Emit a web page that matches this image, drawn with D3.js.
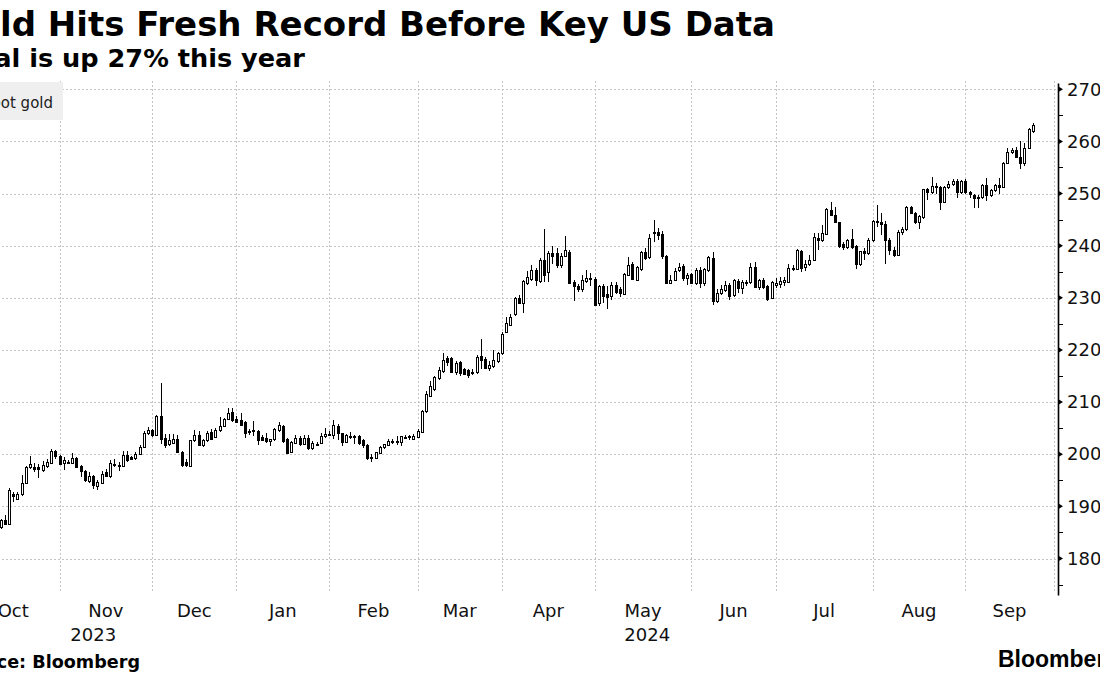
<!DOCTYPE html>
<html>
<head>
<meta charset="utf-8">
<script src="https://cdn.jsdelivr.net/npm/d3@7"></script>
<style>
  body { margin: 0; background: #fff; overflow: hidden; }
  svg { display: block; }
  text { font-family: "DejaVu Sans", sans-serif; fill: #000; }
</style>
</head>
<body>
<svg id="chart" width="1100" height="675"></svg>
<script>
// month categories (trading-day slots per month, Oct 2023 .. Sep 2024)
const monthLabels = ['Oct', 'Nov', 'Dec', 'Jan', 'Feb', 'Mar', 'Apr', 'May', 'Jun', 'Jul', 'Aug', 'Sep'];
const sessionsPerMonth = [22, 22, 20, 22, 21, 20, 22, 23, 20, 23, 22, 21];
const yearLabels = ['2023', '2024'];
const yearFirstMonth = [0, 3];
const yTicks = [1800, 1900, 2000, 2100, 2200, 2300, 2400, 2500, 2600, 2700];
const yMinorTicks = [1750, 1850, 1950, 2050, 2150, 2250, 2350, 2450, 2550, 2650];

// daily candles [open, high, low, close]; null = session cut off by the crop
const oct2023 = [
  null, null, null, null, null, null, null, null,
  [1860, 1876, 1857, 1873], [1873, 1883, 1864, 1867], [1867, 1935, 1865, 1932],
  [1923, 1928, 1909, 1919], [1915, 1928, 1912, 1923], [1923, 1960, 1920, 1945],
  [1945, 1978, 1942, 1975], [1975, 1996, 1972, 1981], [1975, 1984, 1965, 1972],
  [1975, 1982, 1954, 1971], [1970, 1987, 1966, 1979], [1977, 1990, 1974, 1986],
  [1984, 2010, 1981, 2007], [2007, 2009, 1990, 1996]
];
const nov2023 = [
  [1997, 1999, 1980, 1982], [1984, 1994, 1970, 1988], [1986, 1989, 1981, 1983],
  [1984, 2003, 1982, 1992], [1992, 1995, 1975, 1976], [1977, 1979, 1957, 1967],
  [1967, 1970, 1947, 1951], [1949, 1965, 1945, 1958], [1958, 1961, 1934, 1941],
  [1939, 1950, 1932, 1947], [1945, 1967, 1943, 1963], [1965, 1971, 1957, 1958],
  [1958, 1989, 1955, 1983], [1982, 1991, 1976, 1981], [1979, 1986, 1968, 1977],
  [1977, 2007, 1975, 1999], [1999, 2007, 1986, 1989], [1994, 1997, 1988, 1990],
  [1992, 2005, 1989, 2001], [2000, 2018, 1998, 2013], [2013, 2044, 2011, 2041],
  [2040, 2052, 2037, 2046]
];
const dec2023 = [
  [2046, 2049, 2033, 2036], [2036, 2076, 2034, 2074], [2073, 2136, 2020, 2029],
  [2031, 2039, 2011, 2018], [2019, 2038, 2015, 2027], [2022, 2039, 2020, 2029],
  [2029, 2036, 2002, 2004], [2005, 2007, 1976, 1980], [1985, 1990, 1976, 1979],
  [1978, 2028, 1975, 2027], [2027, 2047, 2024, 2037], [2037, 2044, 2016, 2018],
  [2018, 2030, 2014, 2028], [2027, 2044, 2024, 2041], [2042, 2048, 2027, 2030],
  [2033, 2050, 2031, 2046], [2046, 2072, 2043, 2055], [2055, 2070, 2052, 2068],
  [2068, 2088, 2065, 2079], [2081, 2089, 2062, 2065]
];
const jan2024 = [
  [2068, 2073, 2060, 2062], [2066, 2079, 2057, 2057], [2061, 2064, 2032, 2041],
  [2045, 2048, 2037, 2043], [2047, 2063, 2034, 2044], [2045, 2047, 2018, 2027],
  [2033, 2037, 2026, 2028], [2031, 2041, 2021, 2025], [2025, 2030, 2015, 2029],
  [2029, 2050, 2025, 2048], [2046, 2061, 2043, 2057], [2055, 2057, 2021, 2026],
  [2029, 2031, 2002, 2003], [2005, 2026, 2003, 2024], [2022, 2037, 2021, 2031],
  [2031, 2034, 2016, 2020], [2020, 2037, 2018, 2031], [2032, 2036, 2008, 2011],
  [2012, 2026, 2009, 2022], [2020, 2024, 2015, 2017], [2022, 2040, 2020, 2034],
  [2034, 2050, 2032, 2039]
];
const feb2024 = [
  [2039, 2044, 2035, 2036], [2036, 2066, 2030, 2056], [2055, 2058, 2027, 2040],
  [2040, 2041, 2015, 2024], [2024, 2039, 2021, 2037], [2035, 2043, 2030, 2035],
  [2035, 2036, 2020, 2034], [2034, 2036, 2018, 2022], [2027, 2029, 2011, 2018],
  [2018, 2020, 1989, 1992], [1993, 2001, 1986, 1995], [1993, 2005, 1990, 2004],
  [2003, 2015, 2001, 2013], [2013, 2019, 2010, 2019], [2018, 2030, 2016, 2025],
  [2024, 2030, 2020, 2025], [2026, 2034, 2018, 2026], [2024, 2035, 2016, 2035],
  [2031, 2036, 2029, 2033], [2033, 2037, 2028, 2034], [2030, 2039, 2027, 2035]
];
const mar2024 = [
  [2033, 2048, 2031, 2045], [2043, 2085, 2040, 2082], [2082, 2121, 2080, 2116],
  [2112, 2141, 2110, 2130], [2125, 2150, 2122, 2148], [2146, 2168, 2143, 2161],
  [2159, 2195, 2155, 2180], [2184, 2189, 2169, 2176], [2184, 2186, 2155, 2157],
  [2157, 2178, 2152, 2175], [2176, 2179, 2150, 2155], [2163, 2166, 2152, 2154],
  [2161, 2163, 2146, 2152], [2158, 2163, 2152, 2156], [2157, 2191, 2154, 2187],
  [2188, 2221, 2163, 2180], [2182, 2187, 2163, 2165], [2165, 2178, 2159, 2171],
  [2170, 2199, 2166, 2180], [2178, 2196, 2175, 2195]
];
const apr2024 = [
  [2194, 2235, 2191, 2231], [2235, 2264, 2232, 2252], [2248, 2268, 2245, 2264],
  [2268, 2302, 2265, 2299], [2300, 2306, 2290, 2291], [2291, 2335, 2271, 2332],
  [2328, 2352, 2325, 2340], [2336, 2363, 2333, 2354], [2354, 2357, 2322, 2335],
  [2332, 2376, 2329, 2373], [2373, 2432, 2330, 2344], [2350, 2390, 2330, 2385],
  [2386, 2400, 2364, 2381], [2385, 2396, 2357, 2362], [2362, 2385, 2358, 2381],
  [2380, 2418, 2378, 2392], [2388, 2392, 2326, 2328], [2330, 2335, 2293, 2323],
  [2323, 2327, 2312, 2316], [2316, 2344, 2312, 2334], [2333, 2353, 2328, 2338],
  [2338, 2348, 2323, 2336]
];
const may2024 = [
  [2336, 2339, 2285, 2287], [2290, 2325, 2284, 2322], [2322, 2327, 2290, 2303],
  [2307, 2322, 2278, 2302], [2303, 2331, 2296, 2325], [2325, 2331, 2308, 2312],
  [2316, 2320, 2302, 2309], [2308, 2348, 2306, 2346], [2344, 2378, 2341, 2362],
  [2365, 2368, 2334, 2336], [2335, 2361, 2333, 2360], [2355, 2389, 2352, 2387],
  [2387, 2395, 2372, 2377], [2378, 2423, 2375, 2415], [2426, 2450, 2407, 2424],
  [2427, 2434, 2410, 2421], [2423, 2428, 2374, 2380], [2380, 2383, 2327, 2328],
  [2328, 2344, 2326, 2335], [2335, 2357, 2332, 2351], [2354, 2367, 2350, 2360],
  [2361, 2364, 2333, 2338], [2338, 2348, 2325, 2344]
];
const jun2024 = [
  [2345, 2348, 2327, 2328], [2328, 2357, 2324, 2354], [2354, 2360, 2318, 2328],
  [2328, 2357, 2322, 2355], [2354, 2381, 2350, 2378], [2377, 2387, 2287, 2293],
  [2293, 2316, 2290, 2310], [2310, 2325, 2306, 2316], [2315, 2333, 2312, 2325],
  [2325, 2328, 2296, 2304], [2306, 2336, 2302, 2334], [2332, 2337, 2310, 2319],
  [2319, 2334, 2308, 2331], [2328, 2335, 2322, 2331], [2330, 2366, 2327, 2360],
  [2360, 2368, 2318, 2321], [2320, 2337, 2315, 2334], [2335, 2338, 2316, 2320],
  [2322, 2325, 2294, 2297], [2300, 2332, 2298, 2330]
];
const jul2024 = [
  [2325, 2338, 2319, 2328], [2326, 2339, 2319, 2333], [2331, 2340, 2322, 2334],
  [2330, 2364, 2328, 2357], [2357, 2362, 2352, 2357], [2355, 2393, 2353, 2392],
  [2389, 2392, 2350, 2357], [2359, 2373, 2351, 2365], [2365, 2383, 2361, 2372],
  [2372, 2425, 2370, 2417], [2415, 2424, 2392, 2410], [2410, 2440, 2408, 2424],
  [2423, 2472, 2420, 2470], [2468, 2483, 2456, 2459], [2459, 2475, 2443, 2445],
  [2445, 2446, 2395, 2400], [2404, 2408, 2392, 2397], [2397, 2412, 2393, 2411],
  [2412, 2432, 2394, 2397], [2399, 2402, 2355, 2364], [2365, 2390, 2361, 2389],
  [2389, 2396, 2372, 2385], [2385, 2415, 2382, 2411]
];
const aug2024 = [
  [2410, 2450, 2408, 2448], [2447, 2478, 2436, 2445], [2445, 2462, 2420, 2442],
  [2442, 2448, 2365, 2410], [2410, 2414, 2383, 2392], [2392, 2398, 2378, 2383],
  [2383, 2430, 2380, 2427], [2427, 2436, 2421, 2432], [2432, 2476, 2428, 2474],
  [2474, 2477, 2463, 2463], [2462, 2464, 2442, 2445], [2445, 2458, 2432, 2456],
  [2455, 2509, 2452, 2508], [2509, 2511, 2487, 2503], [2503, 2531, 2499, 2514],
  [2515, 2520, 2500, 2512], [2512, 2514, 2469, 2484], [2484, 2514, 2481, 2512],
  [2512, 2524, 2508, 2518], [2518, 2527, 2514, 2524], [2524, 2527, 2492, 2503],
  [2503, 2526, 2500, 2524]
];
const sep2024 = [
  [2524, 2528, 2499, 2502], [2503, 2505, 2492, 2499], [2498, 2500, 2473, 2492],
  [2494, 2497, 2473, 2492], [2493, 2518, 2490, 2516], [2516, 2529, 2486, 2497],
  [2497, 2508, 2493, 2507], [2506, 2519, 2503, 2516], [2516, 2529, 2500, 2512],
  [2512, 2561, 2510, 2559], [2558, 2587, 2556, 2579], [2579, 2587, 2576, 2584],
  [2584, 2590, 2568, 2570], [2571, 2600, 2547, 2558], [2558, 2597, 2553, 2587],
  [2587, 2625, 2585, 2623], [2619, 2635, 2616, 2632]
];

const monthCandles = [oct2023, nov2023, dec2023, jan2024, feb2024, mar2024,
  apr2024, may2024, jun2024, jul2024, aug2024, sep2024];

const monthStart = Array.from(d3.cumsum([0, ...sessionsPerMonth]));
const totalSlots = d3.sum(sessionsPerMonth);

const candles = monthCandles.flatMap((arr, m) => arr
  .map((c, j) => c && { slot: monthStart[m] + j, o: c[0], h: c[1], l: c[2], c: c[3] })
  .filter(Boolean));

const svg = d3.select('#chart');
const plotTop = 83;
const plotBottom = 595;
const axisX = 1058;

const x = d3.scaleLinear().domain([-4, totalSlots + 1]).range([-50, axisX]);
const y = d3.scaleLinear().domain([1730, 2712]).range([plotBottom, plotTop]);
const crisp = (v) => Math.round(v) + 0.5;

// grid
const grid = svg.append('g')
  .attr('stroke', '#c4c4c4')
  .attr('stroke-width', 1)
  .attr('stroke-dasharray', '2,2');

grid.selectAll('line.h')
  .data(yTicks)
  .join('line')
  .attr('class', 'h')
  .attr('x1', x(-4))
  .attr('x2', axisX - 2)
  .attr('y1', (d) => crisp(y(d)))
  .attr('y2', (d) => crisp(y(d)));

grid.selectAll('line.v')
  .data(monthStart)
  .join('line')
  .attr('class', 'v')
  .attr('x1', (d) => crisp(x(d)))
  .attr('x2', (d) => crisp(x(d)))
  .attr('y1', plotTop - 2)
  .attr('y2', plotBottom - 2);

// legend
svg.append('rect')
  .attr('x', -40)
  .attr('y', 82)
  .attr('width', 103)
  .attr('height', 38)
  .attr('fill', '#efefef');
svg.append('text')
  .attr('x', 53)
  .attr('y', 108)
  .attr('text-anchor', 'end')
  .attr('font-size', 15)
  .style('fill', '#222')
  .text('Spot gold');

// candles
const cg = svg.append('g').selectAll('g')
  .data(candles)
  .join('g');

cg.append('line')
  .attr('x1', (d) => Math.round(x(d.slot)) + 0.5)
  .attr('x2', (d) => Math.round(x(d.slot)) + 0.5)
  .attr('y1', (d) => Math.round(y(d.h)))
  .attr('y2', (d) => Math.round(y(d.l)))
  .attr('stroke', '#000')
  .attr('stroke-width', 1);

cg.append('rect')
  .attr('x', (d) => Math.round(x(d.slot)) - 0.5)
  .attr('width', 2)
  .attr('y', (d) => Math.round(y(Math.max(d.o, d.c))) + 0.5)
  .attr('height', (d) => Math.max(1, Math.round(y(Math.min(d.o, d.c))) - Math.round(y(Math.max(d.o, d.c)))))
  .attr('fill', (d) => (d.c >= d.o ? '#fff' : '#000'))
  .attr('stroke', '#000')
  .attr('stroke-width', 1);

// right axis
const yAxis = svg.append('g')
  .attr('transform', `translate(${axisX},0)`)
  .call(d3.axisRight(y).tickValues(yTicks).tickSize(0).tickSizeOuter(0).tickPadding(9).tickFormat(d3.format('d')));
yAxis.select('.domain').attr('stroke', '#000').attr('stroke-width', 1.6);
yAxis.selectAll('text')
  .attr('font-family', '"DejaVu Sans", sans-serif')
  .attr('font-size', 18)
  .style('fill', '#111');

yAxis.selectAll('path.arrow')
  .data(yTicks)
  .join('path')
  .attr('class', 'arrow')
  .attr('d', (d) => `M0,${y(d) - 3}L5,${y(d)}L0,${y(d) + 3}Z`)
  .attr('fill', '#000');

yAxis.selectAll('line.minor')
  .data(yMinorTicks)
  .join('line')
  .attr('class', 'minor')
  .attr('x1', 0)
  .attr('x2', 5)
  .attr('y1', (d) => crisp(y(d)))
  .attr('y2', (d) => crisp(y(d)))
  .attr('stroke', '#000');

// month and year labels
svg.append('g').selectAll('text')
  .data(monthLabels)
  .join('text')
  .attr('x', (d, i) => x((monthStart[i] + monthStart[i + 1]) / 2))
  .attr('y', 617)
  .attr('text-anchor', 'middle')
  .attr('font-size', 18)
  .style('fill', '#111')
  .text((d) => d);

const yearEdges = [-4, ...yearFirstMonth.slice(1).map((m) => monthStart[m]), totalSlots + 1];
svg.append('g').selectAll('text')
  .data(yearLabels)
  .join('text')
  .attr('x', (d, i) => (x(yearEdges[i]) + x(yearEdges[i + 1])) / 2)
  .attr('y', 641)
  .attr('text-anchor', 'middle')
  .attr('font-size', 18)
  .style('fill', '#111')
  .text((d) => d);

// titles and footer
svg.append('text')
  .attr('x', 775)
  .attr('y', 36)
  .attr('text-anchor', 'end')
  .attr('font-size', 34)
  .attr('font-weight', 'bold')
  .text('Gold Hits Fresh Record Before Key US Data');

svg.append('text')
  .attr('x', 305)
  .attr('y', 67)
  .attr('text-anchor', 'end')
  .attr('font-size', 25.6)
  .attr('font-weight', 'bold')
  .text('Metal is up 27% this year');

svg.append('text')
  .attr('x', 140)
  .attr('y', 668)
  .attr('text-anchor', 'end')
  .attr('font-size', 17.6)
  .attr('font-weight', 'bold')
  .text('Source: Bloomberg');

svg.append('text')
  .attr('x', 998)
  .attr('y', 667)
  .style('font-family', '"Liberation Sans", Arial, sans-serif')
  .attr('font-size', 23)
  .attr('font-weight', 'bold')
  .text('Bloomberg');
</script>
</body>
</html>
